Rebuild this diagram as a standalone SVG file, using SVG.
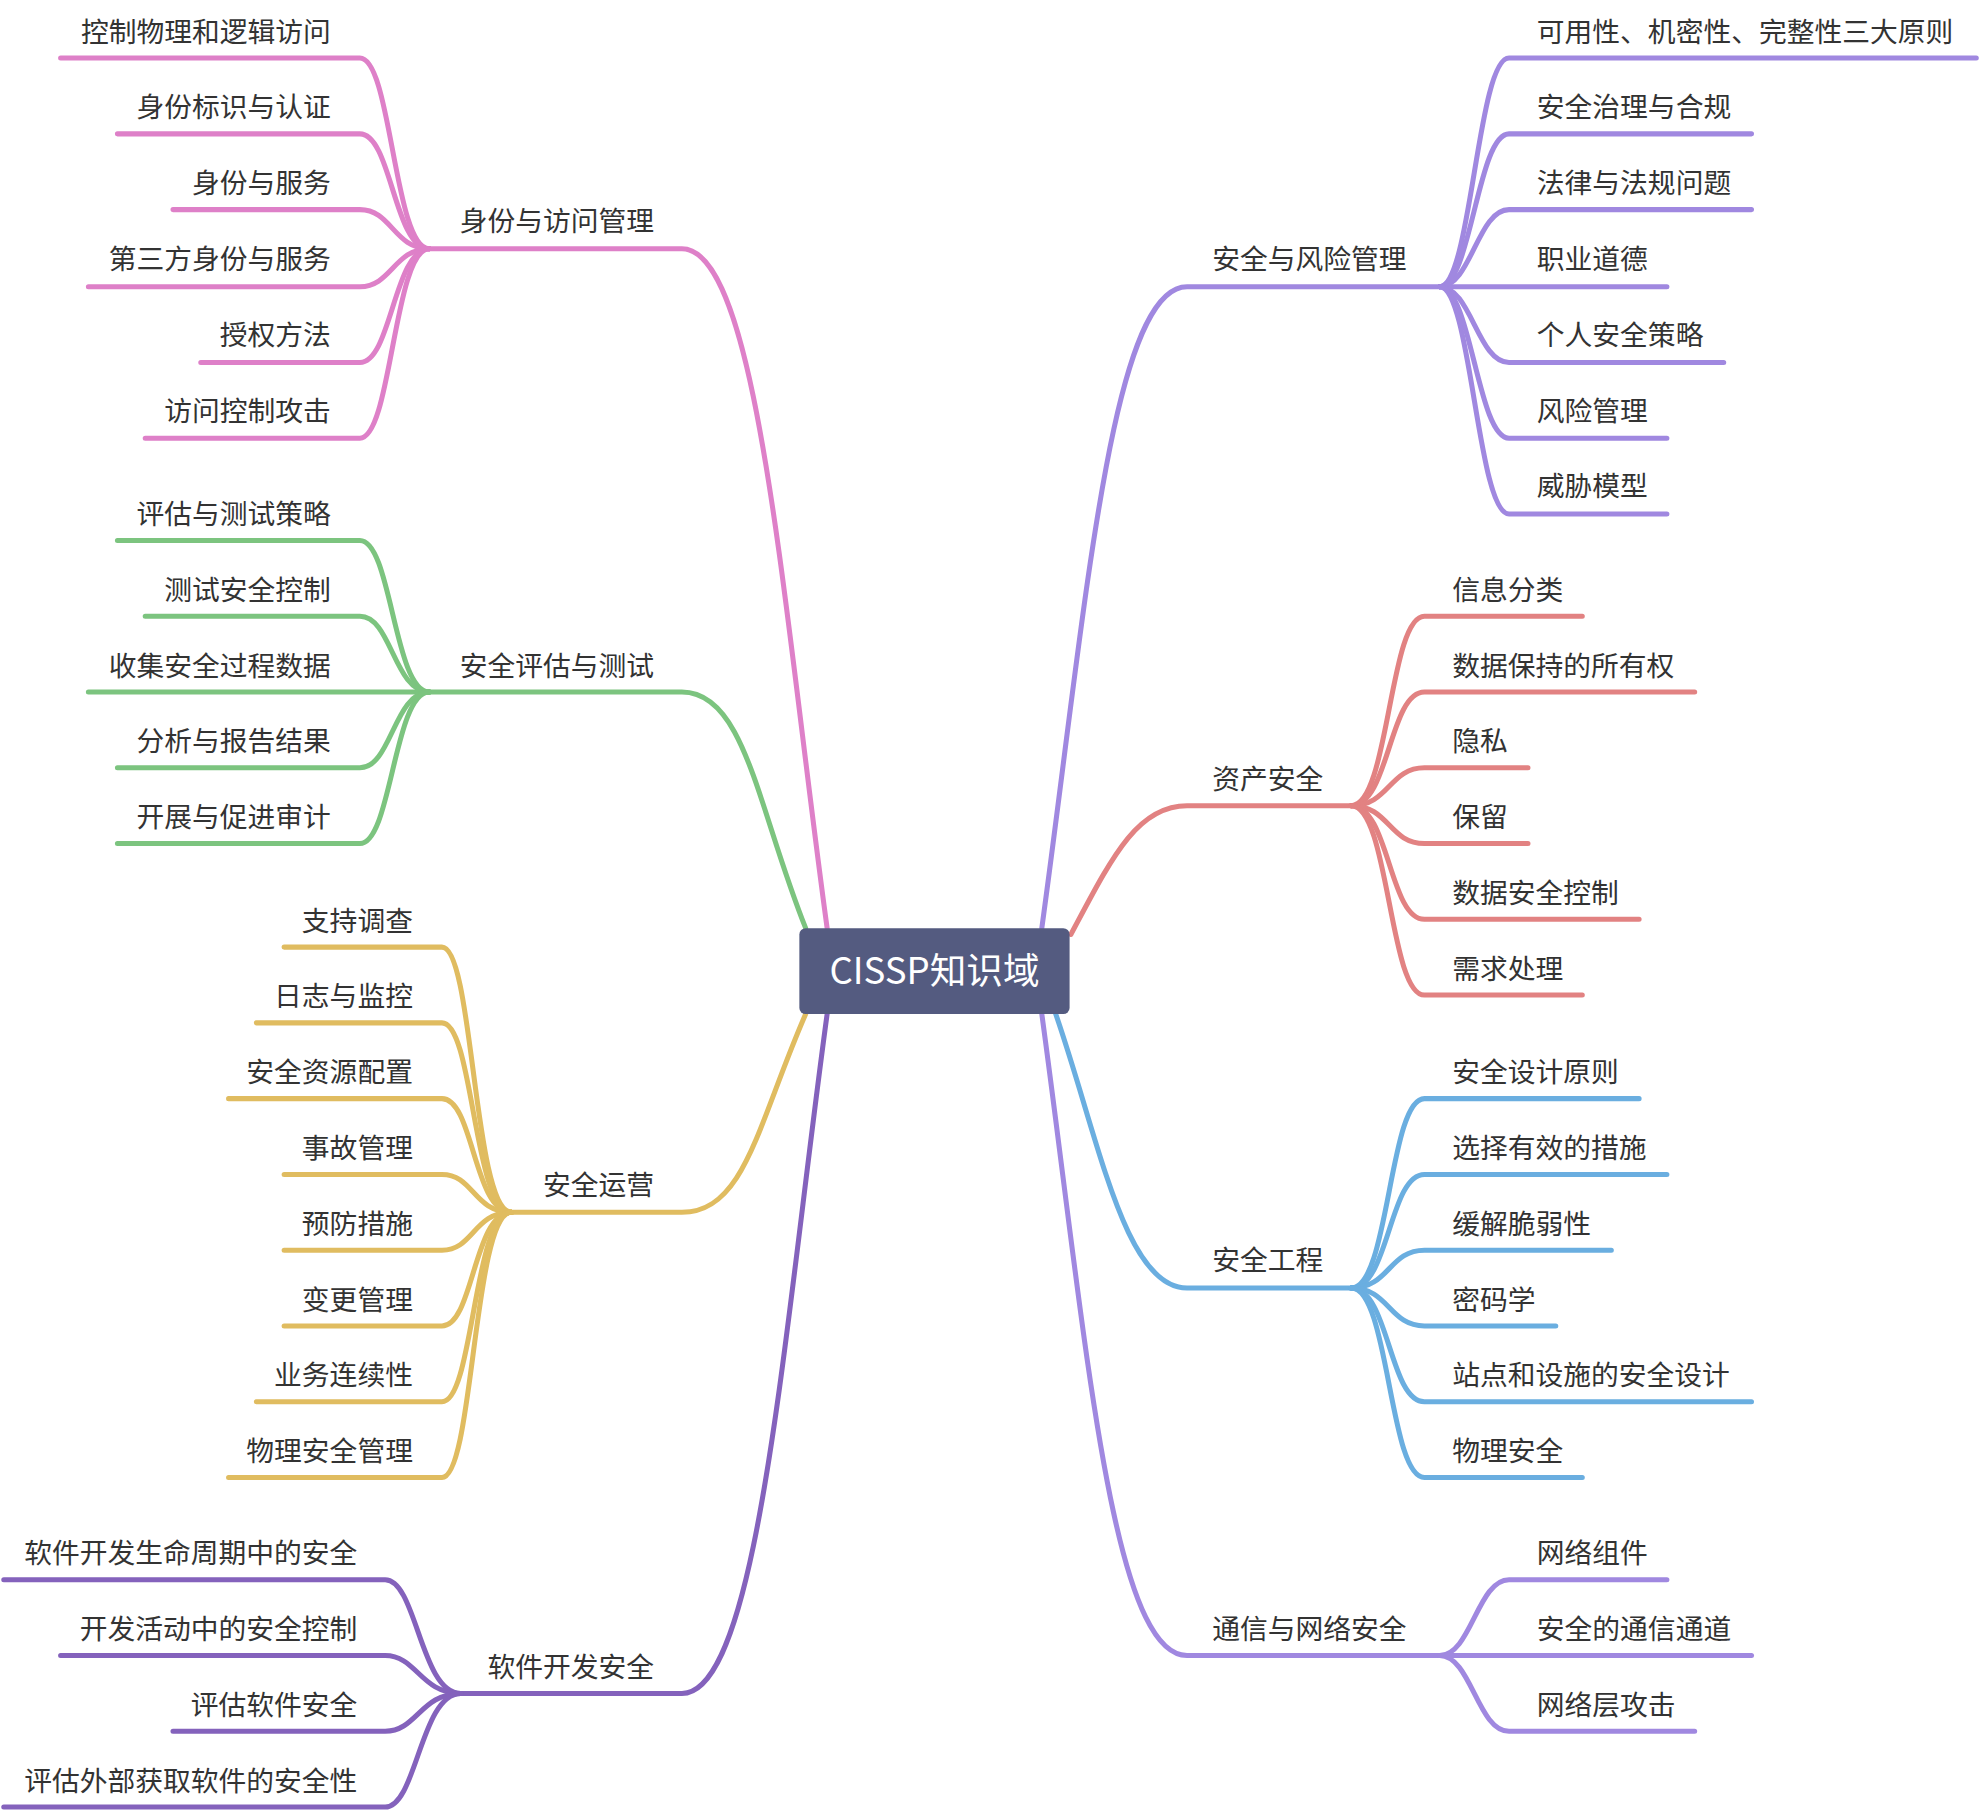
<svg xmlns="http://www.w3.org/2000/svg" width="1980" height="1812" viewBox="0 0 1980 1812">
<style>
text{font-family:"Noto Sans CJK SC","Noto Sans",sans-serif;font-size:22px;fill:#333}
.l{text-anchor:end}
path{fill:none;stroke-width:4;stroke-linecap:round}
.pk{stroke:#de80c8}.gr{stroke:#7cc47f}.yl{stroke:#e0bc60}.dp{stroke:#8462bc}.pu{stroke:#a088e0}.rd{stroke:#e28282}.bl{stroke:#6aaee0}
</style>
<rect width="1980" height="1812" fill="#fff"/>
<g transform="scale(1.2628)">
<g id="connectors">
<path class="pu" d="M825 735 C860 480 880 227 940 227 L1140 227"/>
<path class="rd" d="M848 740 C880 680 900 638 940 638 L1070 638"/>
<path class="bl" d="M835 800 C870 900 890 1020 940 1020 L1070 1020"/>
<path class="pu" d="M825 803 C860 1060 880 1311 940 1311 L1140 1311"/>
<path class="pk" d="M655 735 C620 480 600 197 540 197 L340 197"/>
<path class="gr" d="M638 735 C600 640 590 548 540 548 L340 548"/>
<path class="yl" d="M638 803 C600 890 590 960 540 960 L405 960"/>
<path class="dp" d="M655 803 C620 1060 600 1341 540 1341 L365 1341"/>
<!-- right leaves -->
<path class="pu" d="M1140 227 C1165 227 1170 46 1195 46 L1565 46"/>
<path class="pu" d="M1140 227 C1165 227 1170 106 1195 106 L1387 106"/>
<path class="pu" d="M1140 227 C1165 227 1170 166 1195 166 L1387 166"/>
<path class="pu" d="M1140 227 L1320 227"/>
<path class="pu" d="M1140 227 C1165 227 1170 287 1195 287 L1365 287"/>
<path class="pu" d="M1140 227 C1165 227 1170 347 1195 347 L1320 347"/>
<path class="pu" d="M1140 227 C1165 227 1170 407 1195 407 L1320 407"/>
<path class="rd" d="M1070 638 C1100 638 1100 488 1128 488 L1253 488"/>
<path class="rd" d="M1070 638 C1100 638 1100 548 1128 548 L1342 548"/>
<path class="rd" d="M1070 638 C1100 638 1100 608 1128 608 L1210 608"/>
<path class="rd" d="M1070 638 C1100 638 1100 668 1128 668 L1210 668"/>
<path class="rd" d="M1070 638 C1100 638 1100 728 1128 728 L1298 728"/>
<path class="rd" d="M1070 638 C1100 638 1100 788 1128 788 L1253 788"/>
<path class="bl" d="M1070 1020 C1100 1020 1100 870 1128 870 L1298 870"/>
<path class="bl" d="M1070 1020 C1100 1020 1100 930 1128 930 L1320 930"/>
<path class="bl" d="M1070 1020 C1100 1020 1100 990 1128 990 L1276 990"/>
<path class="bl" d="M1070 1020 C1100 1020 1100 1050 1128 1050 L1232 1050"/>
<path class="bl" d="M1070 1020 C1100 1020 1100 1110 1128 1110 L1387 1110"/>
<path class="bl" d="M1070 1020 C1100 1020 1100 1170 1128 1170 L1253 1170"/>
<path class="pu" d="M1140 1311 C1165 1311 1170 1251 1195 1251 L1320 1251"/>
<path class="pu" d="M1140 1311 L1387 1311"/>
<path class="pu" d="M1140 1311 C1165 1311 1170 1371 1195 1371 L1342 1371"/>
<!-- left leaves -->
<path class="pk" d="M340 197 C312 197 310 46 285 46 L48 46"/>
<path class="pk" d="M340 197 C312 197 310 106 285 106 L93 106"/>
<path class="pk" d="M340 197 C312 197 310 166 285 166 L137 166"/>
<path class="pk" d="M340 197 C312 197 310 227 285 227 L70 227"/>
<path class="pk" d="M340 197 C312 197 310 287 285 287 L159 287"/>
<path class="pk" d="M340 197 C312 197 310 347 285 347 L115 347"/>
<path class="gr" d="M340 548 C312 548 310 428 285 428 L93 428"/>
<path class="gr" d="M340 548 C312 548 310 488 285 488 L115 488"/>
<path class="gr" d="M340 548 L70 548"/>
<path class="gr" d="M340 548 C312 548 310 608 285 608 L93 608"/>
<path class="gr" d="M340 548 C312 548 310 668 285 668 L93 668"/>
<path class="yl" d="M405 960 C375 960 375 750 350 750 L225 750"/>
<path class="yl" d="M405 960 C375 960 375 810 350 810 L203 810"/>
<path class="yl" d="M405 960 C375 960 375 870 350 870 L181 870"/>
<path class="yl" d="M405 960 C375 960 375 930 350 930 L225 930"/>
<path class="yl" d="M405 960 C375 960 375 990 350 990 L225 990"/>
<path class="yl" d="M405 960 C375 960 375 1050 350 1050 L225 1050"/>
<path class="yl" d="M405 960 C375 960 375 1110 350 1110 L203 1110"/>
<path class="yl" d="M405 960 C375 960 375 1170 350 1170 L181 1170"/>
<path class="dp" d="M365 1341 C333 1341 330 1251 305 1251 L3 1251"/>
<path class="dp" d="M365 1341 C333 1341 330 1311 305 1311 L48 1311"/>
<path class="dp" d="M365 1341 C333 1341 330 1371 305 1371 L137 1371"/>
<path class="dp" d="M365 1341 C333 1341 330 1431 305 1431 L3 1431"/>
</g>
<g id="root"><rect x="633" y="735" width="214" height="68" rx="5" fill="#545b80"/><text x="740" y="779" text-anchor="middle" style="font-size:29px;fill:#fff">CISSP知识域</text></g>
<g id="b1"><text x="960" y="213">安全与风险管理</text><text x="1217" y="33">可用性、机密性、完整性三大原则</text><text x="1217" y="93">安全治理与合规</text><text x="1217" y="153">法律与法规问题</text><text x="1217" y="213">职业道德</text><text x="1217" y="273">个人安全策略</text><text x="1217" y="333">风险管理</text><text x="1217" y="393">威胁模型</text></g>
<g id="b2"><text x="960" y="625">资产安全</text><text x="1150" y="475">信息分类</text><text x="1150" y="535">数据保持的所有权</text><text x="1150" y="595">隐私</text><text x="1150" y="655">保留</text><text x="1150" y="715">数据安全控制</text><text x="1150" y="775">需求处理</text></g>
<g id="b3"><text x="960" y="1006">安全工程</text><text x="1150" y="857">安全设计原则</text><text x="1150" y="917">选择有效的措施</text><text x="1150" y="977">缓解脆弱性</text><text x="1150" y="1037">密码学</text><text x="1150" y="1097">站点和设施的安全设计</text><text x="1150" y="1157">物理安全</text></g>
<g id="b4"><text x="960" y="1298">通信与网络安全</text><text x="1217" y="1238">网络组件</text><text x="1217" y="1298">安全的通信通道</text><text x="1217" y="1358">网络层攻击</text></g>
<g id="b5"><text x="518" y="183" class="l">身份与访问管理</text><text class="l" x="262" y="33">控制物理和逻辑访问</text><text class="l" x="262" y="93">身份标识与认证</text><text class="l" x="262" y="153">身份与服务</text><text class="l" x="262" y="213">第三方身份与服务</text><text class="l" x="262" y="273">授权方法</text><text class="l" x="262" y="333">访问控制攻击</text></g>
<g id="b6"><text x="518" y="535" class="l">安全评估与测试</text><text class="l" x="262" y="415">评估与测试策略</text><text class="l" x="262" y="475">测试安全控制</text><text class="l" x="262" y="535">收集安全过程数据</text><text class="l" x="262" y="595">分析与报告结果</text><text class="l" x="262" y="655">开展与促进审计</text></g>
<g id="b7"><text x="518" y="946" class="l">安全运营</text><text class="l" x="327" y="737">支持调查</text><text class="l" x="327" y="797">日志与监控</text><text class="l" x="327" y="857">安全资源配置</text><text class="l" x="327" y="917">事故管理</text><text class="l" x="327" y="977">预防措施</text><text class="l" x="327" y="1037">变更管理</text><text class="l" x="327" y="1097">业务连续性</text><text class="l" x="327" y="1157">物理安全管理</text></g>
<g id="b8"><text x="518" y="1328" class="l">软件开发安全</text><text class="l" x="283" y="1238">软件开发生命周期中的安全</text><text class="l" x="283" y="1298">开发活动中的安全控制</text><text class="l" x="283" y="1358">评估软件安全</text><text class="l" x="283" y="1418">评估外部获取软件的安全性</text></g>
</g>
</svg>
